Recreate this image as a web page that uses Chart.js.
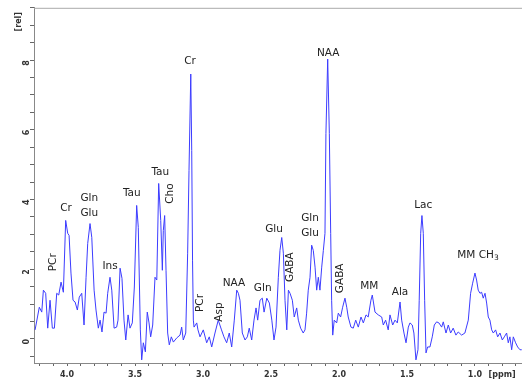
<!DOCTYPE html>
<html>
<head>
<meta charset="utf-8">
<script src="https://cdn.jsdelivr.net/npm/chart.js@4.4.0/dist/chart.umd.min.js"></script>
<style>
  html, body { margin: 0; padding: 0; background: #fff; }
  #wrap { width: 522px; height: 381px; }
</style>
</head>
<body>
<div id="wrap"><canvas id="myChart"></canvas></div>
<script>
// spectrum: chemical shift [ppm] and intensity [rel]
var ppm = [4.235, 4.204, 4.186, 4.174, 4.157, 4.142, 4.125, 4.108, 4.093, 4.076,
  4.061, 4.044, 4.027, 4.010, 3.995, 3.985, 3.971, 3.956, 3.941, 3.924,
  3.910, 3.892, 3.875, 3.860, 3.848, 3.831, 3.818, 3.801, 3.787, 3.770,
  3.757, 3.743, 3.728, 3.713, 3.701, 3.684, 3.671, 3.654, 3.635, 3.625,
  3.610, 3.596, 3.581, 3.568, 3.551, 3.537, 3.520, 3.505, 3.488, 3.476,
  3.461, 3.451, 3.439, 3.424, 3.410, 3.397, 3.385, 3.370, 3.353, 3.340,
  3.326, 3.311, 3.299, 3.292, 3.282, 3.272, 3.260, 3.248, 3.233, 3.218,
  3.193, 3.169, 3.157, 3.145, 3.127, 3.113, 3.103, 3.090, 3.083, 3.077,
  3.071, 3.066, 3.046, 3.037, 3.022, 2.998, 2.973, 2.954, 2.936, 2.912,
  2.888, 2.864, 2.846, 2.826, 2.807, 2.789, 2.770, 2.752, 2.740, 2.728,
  2.711, 2.691, 2.674, 2.660, 2.642, 2.625, 2.610, 2.598, 2.581, 2.564,
  2.551, 2.531, 2.512, 2.494, 2.478, 2.463, 2.446, 2.434, 2.421, 2.409,
  2.397, 2.384, 2.372, 2.360, 2.343, 2.329, 2.311, 2.299, 2.282, 2.263,
  2.250, 2.238, 2.226, 2.213, 2.201, 2.189, 2.176, 2.164, 2.152, 2.140,
  2.127, 2.115, 2.103, 2.096, 2.083, 2.071, 2.061, 2.054, 2.046, 2.035,
  2.017, 2.005, 1.988, 1.973, 1.956, 1.943, 1.932, 1.912, 1.895, 1.877,
  1.858, 1.838, 1.821, 1.801, 1.785, 1.765, 1.755, 1.735, 1.711, 1.686,
  1.674, 1.657, 1.638, 1.625, 1.605, 1.588, 1.571, 1.551, 1.539, 1.522,
  1.507, 1.490, 1.478, 1.461, 1.449, 1.434, 1.419, 1.410, 1.399, 1.390,
  1.380, 1.370, 1.360, 1.348, 1.331, 1.314, 1.299, 1.282, 1.265, 1.245,
  1.233, 1.213, 1.196, 1.179, 1.160, 1.140, 1.123, 1.098, 1.074, 1.049,
  1.032, 1.017, 1.000, 0.988, 0.976, 0.963, 0.951, 0.939, 0.926, 0.914,
  0.902, 0.890, 0.877, 0.865, 0.848, 0.833, 0.816, 0.799, 0.784, 0.767,
  0.755, 0.743, 0.730, 0.718, 0.701, 0.686, 0.669, 0.656];
var intensity = [0.26, 0.91, 0.77, 1.40, 1.31, 0.31, 1.11, 0.31, 0.31, 1.31,
  1.26, 1.63, 1.34, 3.40, 3.03, 2.97, 1.89, 1.11, 1.06, 0.83,
  1.20, 1.31, 0.40, 1.77, 2.74, 3.31, 2.91, 1.40, 0.83, 0.31,
  0.54, 0.20, 0.77, 0.74, 1.31, 1.77, 1.40, 0.31, 0.34, 0.54,
  2.03, 1.74, 0.54, -0.03, 0.69, 0.31, 0.46, 1.49, 3.83, 3.20,
  0.26, -0.60, -0.11, -0.37, 0.77, 0.46, 0.06, 0.40, 1.77, 1.69,
  4.46, 3.40, 1.97, 3.11, 3.54, 1.97, 0.17, -0.17, 0.06, -0.09,
  0.03, 0.11, 0.34, -0.03, 0.17, 2.46, 4.83, 7.60, 5.40, 2.26,
  0.54, 0.34, 0.46, 0.26, 0.06, 0.26, -0.11, 0.06, -0.23, 0.17,
  0.54, 0.26, 0.06, -0.11, 0.17, -0.23, 0.54, 1.40, 1.31, 1.11,
  0.17, -0.03, 0.06, 0.31, -0.03, 0.54, 0.89, 0.54, 1.11, 1.17,
  0.77, 1.17, 1.03, 0.54, -0.03, 0.34, 1.77, 2.54, 2.91, 2.46,
  1.11, 0.26, 1.40, 1.31, 1.11, 0.63, 0.89, 0.54, 0.31, 0.17,
  0.26, 0.74, 1.40, 1.77, 2.69, 2.54, 2.06, 1.40, 1.77, 1.40,
  2.06, 2.54, 3.03, 5.89, 8.03, 5.89, 3.03, 1.11, 0.11, 0.54,
  0.46, 0.74, 0.63, 0.91, 1.17, 0.91, 0.63, 0.34, 0.31, 0.54,
  0.34, 0.63, 0.46, 0.69, 0.63, 1.11, 1.26, 0.77, 0.69, 0.63,
  0.40, 0.54, 0.26, 0.69, 0.40, 0.54, 0.46, 1.06, 0.54, 0.17,
  -0.11, 0.34, 0.46, 0.40, 0.17, -0.60, -0.31, 1.11, 3.03, 3.54,
  3.03, 1.11, -0.40, -0.23, -0.23, 0.06, 0.40, 0.49, 0.46, 0.34,
  0.49, 0.17, 0.40, 0.17, 0.31, 0.11, 0.20, 0.11, 0.17, 0.54,
  1.31, 1.60, 1.89, 1.69, 1.40, 1.31, 1.34, 1.17, 1.31, 1.03,
  0.63, 0.54, 0.26, 0.17, 0.26, 0.06, 0.17, -0.03, 0.06, 0.17,
  -0.11, 0.06, -0.31, 0.06, -0.11, -0.23, -0.31, -0.31];

// metabolite labels: text, ppm, rel, rotated?
var peakNames = ['PCr', 'Cr', 'Gln', 'Glu', 'Ins', 'Tau', 'Tau', 'Cho', 'Cr', 'PCr', 'Asp', 'NAA', 'Gln',
  'Glu', 'GABA', 'Gln', 'Glu', 'NAA', 'GABA', 'MM', 'Ala', 'Lac'];
var peakPpm = [4.103, 4.007, 3.836, 3.836, 3.684, 3.524, 3.314, 3.243, 3.096, 3.022, 2.880, 2.772, 2.561,
  2.478, 2.355, 2.213, 2.213, 2.079, 1.993, 1.777, 1.551, 1.380];
var peakRel = [2.20, 3.74, 4.03, 3.60, 2.09, 4.17, 4.77, 4.17, 7.97, 1.03, 0.77, 1.60, 1.46,
  3.14, 2.06, 3.46, 3.03, 8.20, 1.74, 1.51, 1.34, 3.83];
var peakRot = [1, 0, 0, 0, 0, 0, 0, 1, 0, 1, 1, 0, 0, 0, 1, 0, 0, 0, 1, 0, 0, 0];

var points = ppm.map(function (p, i) { return { x: p, y: intensity[i] }; });

var labelPlugin = {
  id: 'peakLabels',
  afterDraw: function (chart) {
    var c = chart.ctx, xs = chart.scales.x, ys = chart.scales.y, a = chart.chartArea;
    c.save();
    // top frame line
    c.strokeStyle = '#aaa';
    c.lineWidth = 1;
    c.beginPath();
    c.moveTo(a.left, a.top + 0.5);
    c.lineTo(a.right, a.top + 0.5);
    c.stroke();

    // unit of the y axis
    c.fillStyle = '#333';
    c.font = 'bold 8px "DejaVu Sans"';
    c.textAlign = 'center';
    c.textBaseline = 'middle';
    c.save();
    c.translate(19, ys.getPixelForValue(9.1));
    c.rotate(-Math.PI / 2);
    c.fillText('[rel]', 0, 0);
    c.restore();

    c.fillStyle = '#222';
    c.font = '10.5px "DejaVu Sans"';
    for (var i = 0; i < peakNames.length; i++) {
      var px = xs.getPixelForValue(peakPpm[i]);
      var py = ys.getPixelForValue(peakRel[i]);
      if (peakRot[i]) {
        c.save();
        c.translate(px, py);
        c.rotate(-Math.PI / 2);
        c.fillText(peakNames[i], 0, 0);
        c.restore();
      } else {
        c.fillText(peakNames[i], px, py);
      }
    }
    // MM CH3 with subscript
    var mx = xs.getPixelForValue(0.978), my = ys.getPixelForValue(2.40);
    var main = 'MM CH';
    var w = c.measureText(main).width;
    c.font = '7.5px "DejaVu Sans"';
    var w3 = c.measureText('3').width;
    c.textAlign = 'left';
    c.fillText('3', mx - (w + w3) / 2 + w, my + 3);
    c.font = '10.5px "DejaVu Sans"';
    c.fillText(main, mx - (w + w3) / 2, my);
    c.restore();
  }
};

var ctx = document.getElementById('myChart').getContext('2d');
var myChart = new Chart(ctx, {
  type: 'line',
  data: {
    datasets: [{
      data: points,
      borderColor: 'rgb(60, 60, 255)',
      borderWidth: 1,
      pointRadius: 0,
      tension: 0,
      fill: false
    }]
  },
  options: {
    responsive: true,
    maintainAspectRatio: false,
    animation: false,
    layout: { padding: { top: 2, right: 0, left: 0, bottom: 0 } },
    plugins: {
      legend: { display: false },
      tooltip: { enabled: false }
    },
    scales: {
      x: {
        type: 'linear',
        reverse: true,
        min: 0.654,
        max: 4.243,
        afterFit: function (s) { s.height = 18; },
        border: { color: '#888', width: 1 },
        grid: { drawOnChartArea: false, drawTicks: true, tickLength: 3, color: '#666' },
        ticks: {
          stepSize: 0.1,
          includeBounds: false,
          autoSkip: false,
          maxTicksLimit: 100,
          maxRotation: 0,
          padding: 4,
          color: '#333',
          font: { family: 'DejaVu Sans', size: 8, weight: 'bold' },
          callback: function (v) {
            if (Math.abs(v - 0.8) < 1e-6) return '[ppm]';
            if (Math.abs(v * 2 - Math.round(v * 2)) < 1e-6) return v.toFixed(1);
            return '';
          }
        }
      },
      y: {
        min: -0.69,
        max: 9.5,
        afterFit: function (s) { s.width = 34; },
        border: { color: '#888', width: 1 },
        grid: { drawOnChartArea: false, drawTicks: true, tickLength: 4, color: '#666' },
        ticks: {
          stepSize: 0.5,
          includeBounds: false,
          autoSkip: false,
          maxTicksLimit: 100,
          minRotation: 90,
          maxRotation: 90,
          padding: 3,
          color: '#333',
          font: { family: 'DejaVu Sans', size: 8, weight: 'bold' },
          callback: function (v) {
            if (Math.abs(v / 2 - Math.round(v / 2)) < 1e-6 && v < 9) return String(Math.round(v));
            return '';
          }
        }
      }
    }
  },
  plugins: [labelPlugin]
});
</script>
</body>
</html>
